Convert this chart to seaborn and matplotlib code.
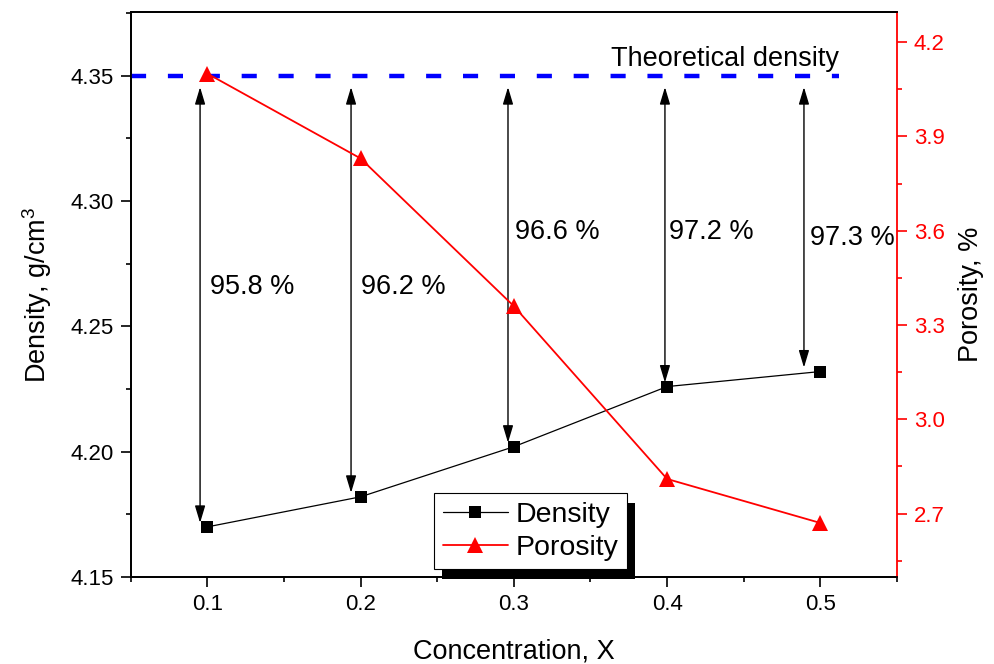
import matplotlib
matplotlib.use("Agg")
import matplotlib.pyplot as plt
from matplotlib.patches import Rectangle
from matplotlib.lines import Line2D
from matplotlib.ticker import MultipleLocator
import seaborn as sns
import pandas as pd

# Sample data
concentration = [0.1, 0.2, 0.3, 0.4, 0.5]
density = [4.170, 4.182, 4.202, 4.226, 4.232]      # g/cm^3
porosity = [4.10, 3.83, 3.36, 2.81, 2.67]          # %
relative_density = ["95.8 %", "96.2 %", "96.6 %", "97.2 %", "97.3 %"]
theoretical_density = 4.35

# Where the relative-density labels sit
label_x = [0.102, 0.200, 0.301, 0.401, 0.493]
label_y = [4.2658, 4.2658, 4.2878, 4.2878, 4.2854]
arrow_dx = [-0.0047, -0.0062, -0.0038, -0.0014, -0.0107]

sns.set_theme(style="ticks")
plt.rcParams["font.family"] = ["Liberation Sans", "DejaVu Sans"]
plt.rcParams["mathtext.fontset"] = "custom"
plt.rcParams["mathtext.rm"] = "Liberation Sans"
plt.rcParams["text.color"] = "black"
plt.rcParams["axes.labelcolor"] = "black"

df = pd.DataFrame({"x": concentration, "density": density, "porosity": porosity})

fig = plt.figure(figsize=(9.95, 6.64), dpi=100)
ax1 = fig.add_axes([0.1313, 0.131, 0.7702, 0.851])
ax2 = ax1.twinx()

sns.lineplot(data=df, x="x", y="density", ax=ax1, color="black", lw=0.9,
             marker="s", markersize=9, markeredgewidth=0, zorder=4)
sns.lineplot(data=df, x="x", y="porosity", ax=ax2, color="red", lw=1.3,
             marker="^", markersize=11, markeredgewidth=0, zorder=3)

# Theoretical density reference
ax1.plot([0.05, 0.512], [theoretical_density] * 2, color="#0000ff", lw=3.2,
         dashes=(3.4, 4.9), zorder=3, solid_capstyle="butt", dash_capstyle="butt")
ax1.text(0.5121, 4.3541, "Theoretical density", ha="right", va="baseline",
         fontsize=19.5, color="black")

# Gap between measured and theoretical density
for cx, d, dx, lx, ly, txt in zip(concentration, density, arrow_dx,
                                   label_x, label_y, relative_density):
    ax1.annotate("", xy=(cx + dx, d + 0.0016), xytext=(cx + dx, 4.3455),
                 arrowprops=dict(arrowstyle="<|-|>,head_length=0.8,head_width=0.24",
                                 mutation_scale=13, lw=1.0, color="black",
                                 shrinkA=0, shrinkB=0))
    ax1.text(lx, ly, txt, ha="left", va="center", fontsize=19.5, color="black")

ax1.set_xlim(0.05, 0.55)
ax1.set_ylim(4.15, 4.3755)
ax2.set_ylim(2.498, 4.296)

ax1.set_xticks(concentration)
ax1.xaxis.set_minor_locator(MultipleLocator(0.05))
ax1.set_yticks([4.15, 4.20, 4.25, 4.30, 4.35])
ax1.yaxis.set_minor_locator(MultipleLocator(0.025))
ax1.set_yticklabels([f"{v:.2f}" for v in [4.15, 4.20, 4.25, 4.30, 4.35]])
ax2.set_yticks([2.7, 3.0, 3.3, 3.6, 3.9, 4.2])
ax2.yaxis.set_minor_locator(MultipleLocator(0.15))
ax2.set_yticklabels([f"{v:.1f}" for v in [2.7, 3.0, 3.3, 3.6, 3.9, 4.2]])

ax1.set_xlabel("Concentration, X", fontsize=19.5, labelpad=17, color="black")
ax1.set_ylabel("Density, g/cm$^3$", fontsize=19.5, labelpad=12, color="black")
ax2.set_ylabel("Porosity, %", fontsize=19.5, labelpad=10, color="black")

for ax in (ax1, ax2):
    for sp in ax.spines.values():
        sp.set_linewidth(1.3)
        sp.set_color("black")
ax2.spines["right"].set_color("red")
ax1.spines["right"].set_visible(False)

ax1.tick_params(axis="both", which="major", direction="out", length=7, width=1.2,
                labelsize=16, colors="black", pad=5)
ax1.tick_params(axis="both", which="minor", direction="out", length=3.5, width=1.2,
                colors="black")
ax2.tick_params(axis="y", which="major", direction="out", length=7, width=1.2,
                labelsize=16, colors="red", pad=5)
ax2.tick_params(axis="y", which="minor", direction="out", length=3.5, width=1.2,
                colors="red")

handles = [
    Line2D([], [], color="black", lw=0.9, marker="s", markersize=9, markeredgewidth=0),
    Line2D([], [], color="red", lw=1.3, marker="^", markersize=11, markeredgewidth=0),
]
leg = ax2.legend(handles, ["Density", "Porosity"], loc="lower left",
                 bbox_to_anchor=(0.396, 0.014), borderaxespad=0, fontsize=20.5,
                 frameon=True, fancybox=False, framealpha=1, edgecolor="black",
                 handlelength=2.3, handletextpad=0.25, labelspacing=0.24,
                 borderpad=0.3)
leg.get_frame().set_linewidth(0.8)
leg.set_zorder(10)

# Solid drop shadow behind the legend box
fig.canvas.draw()
bb = leg.get_frame().get_window_extent()
shadow = Rectangle((bb.x0 + 8, bb.y0 - 10), bb.width, bb.height, transform=None,
                   facecolor="black", edgecolor="none", zorder=9, clip_on=False)
ax2.add_patch(shadow)

fig.savefig("out.png", dpi=100)
